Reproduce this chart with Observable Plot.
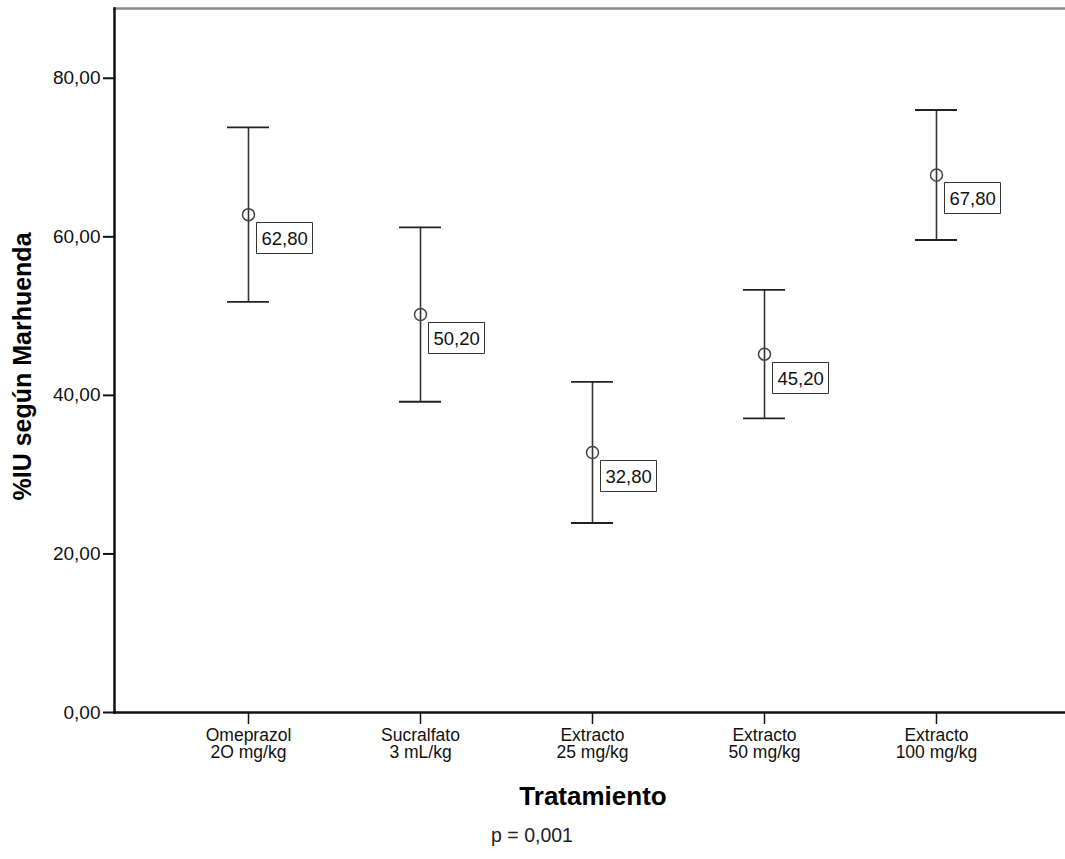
<!DOCTYPE html>
<html>
<head>
<meta charset="utf-8">
<script src="https://cdn.jsdelivr.net/npm/d3@7"></script>
<script src="https://cdn.jsdelivr.net/npm/@observablehq/plot@0.6"></script>
<style>
  html, body { margin: 0; padding: 0; background: white; }
  #chart { width: 1065px; height: 859px; }
</style>
</head>
<body>
<div id="chart"></div>
<script>
const categories = ["Omeprazol\n2O mg/kg", "Sucralfato\n3 mL/kg", "Extracto\n25 mg/kg", "Extracto\n50 mg/kg", "Extracto\n100 mg/kg"];
const means = [62.8, 50.2, 32.8, 45.2, 67.8];
const lower = [51.8, 39.2, 23.9, 37.1, 59.6];
const upper = [73.8, 61.2, 41.7, 53.3, 76.0];
const yTicks = [0, 20, 40, 60, 80];
const xTitle = "Tratamiento";
const yTitle = "%IU según Marhuenda";
const note = "p = 0,001";

const data = categories.map((c, i) => ({cat: c, mean: means[i], lo: lower[i], hi: upper[i]}));
const fmt = v => v.toFixed(2).replace(".", ",");

const chart = Plot.plot({
  width: 1065,
  height: 859,
  marginTop: 8,
  marginLeft: 114,
  marginRight: 0,
  marginBottom: 147,
  style: {fontFamily: "'Liberation Sans', Arial, sans-serif", fontSize: "18px", background: "white", color: "#111"},
  x: {domain: categories, paddingInner: 0.757, paddingOuter: 0.635, align: 0.51, label: null},
  y: {domain: [0, 88.8], label: null},
  marks: [
    Plot.frame({anchor: "top", stroke: "#8a8a8a", strokeWidth: 2.5}),
    Plot.frame({anchor: "left", stroke: "#111", strokeWidth: 2.5}),
    Plot.frame({anchor: "bottom", stroke: "#111", strokeWidth: 2.5}),
    Plot.axisY({ticks: yTicks, tickFormat: fmt, tickSize: 11, tickPadding: 3, fontSize: 19, label: null, strokeWidth: 2}),
    Plot.axisX({tickSize: 12, tickPadding: 4, fontSize: 17.5, lineHeight: 1, label: null, strokeWidth: 1.5}),
    Plot.ruleX(data, {x: "cat", y1: "lo", y2: "hi", stroke: "#333", strokeWidth: 1.6}),
    Plot.tickY(data, {x: "cat", y: "lo", stroke: "#222", strokeWidth: 1.8}),
    Plot.tickY(data, {x: "cat", y: "hi", stroke: "#222", strokeWidth: 1.8}),
    Plot.dot(data, {x: "cat", y: "mean", r: 6, stroke: "#444", fill: "none", strokeWidth: 1.5}),
    Plot.tip(data, {x: "cat", y: "mean", title: d => fmt(d.mean), anchor: "top-left", pointerSize: 0,
      dx: 8, dy: 8, fontSize: 18.5, lineHeight: 1, textPadding: 5, fill: "white", stroke: "#333", pathFilter: "none"}),
    Plot.text([xTitle], {text: d => d, frameAnchor: "bottom", textAnchor: "middle", lineAnchor: "middle", dx: 3, dy: 84, fontSize: 26, fontWeight: "bold", fill: "#000"}),
    Plot.text([note], {text: d => d, frameAnchor: "bottom", textAnchor: "middle", lineAnchor: "middle", dx: -58, dy: 123, fontSize: 19.5, fill: "#222"}),
    Plot.text([yTitle], {text: d => d, frameAnchor: "left", textAnchor: "middle", lineAnchor: "middle", rotate: -90, dx: -92, dy: 6, fontSize: 25, fontWeight: "bold", fill: "#000"})
  ]
});
document.getElementById("chart").appendChild(chart);
</script>
</body>
</html>
